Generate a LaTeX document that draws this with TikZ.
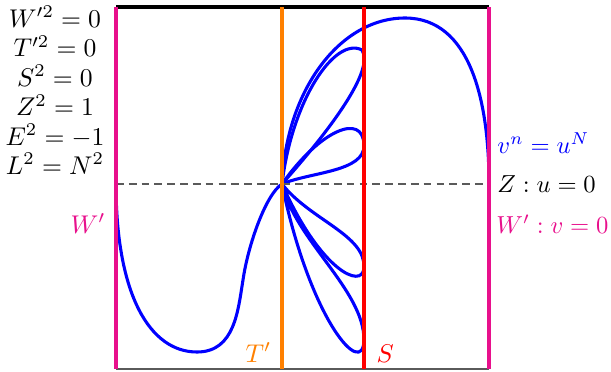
\documentclass[tikz,border=0pt]{standalone}
\definecolor{wpink}{RGB}{232,16,140}
\definecolor{torange}{RGB}{255,128,0}
\definecolor{sred}{RGB}{255,0,0}
\definecolor{cblue}{RGB}{0,0,255}
\definecolor{dgray}{RGB}{90,90,90}
\begin{document}
\begin{tikzpicture}[x=0.39pt,y=-0.39pt,
  curve/.style={cblue,line width=1.2pt},
  vline/.style={line width=1.2pt},
  lab/.style={anchor=base,inner sep=0pt},
  rlab/.style={anchor=base west,inner sep=0pt,scale=0.96}]
\useasboundingbox (0,0) rectangle (611,371);
\coordinate (TL) at (116,7);
\coordinate (TR) at (489,7);
\coordinate (BL) at (116,369);
\coordinate (BR) at (489,369);
\coordinate (ML) at (116,184);
\coordinate (MR) at (489,184);
\coordinate (X) at (282,184);
\coordinate (Ot) at (282,7);
\coordinate (Ob) at (282,369);
\coordinate (St) at (364,7);
\coordinate (Sb) at (364,369);
% blue curve
\draw[curve] (ML) .. controls (116,295) and (150,352) .. (197,352)
  .. controls (235,352) and (238,310) .. (243,280)
  .. controls (248,245) and (266,194) .. (X);
\draw[curve] (X) .. controls (310,172) and (365,172) .. (364,145)
  .. controls (363,112) and (320,130) .. (X);
\draw[curve] (X) .. controls (292,100) and (335,36) .. (362,50)
  .. controls (375,70) and (330,130) .. (X);
\draw[curve] (X) .. controls (286,90) and (340,18) .. (405,18)
  .. controls (470,18) and (489,100) .. (MR);
\draw[curve] (X) .. controls (310,220) and (366,235) .. (364,268)
  .. controls (362,290) and (320,270) .. (X);
\draw[curve] (X) .. controls (295,240) and (364,290) .. (364,340)
  .. controls (363,380) and (310,320) .. (X);
% frame
\draw[dgray,line width=0.5pt,dash pattern=on 3pt off 2pt] (ML) -- (MR);
\draw[dgray,line width=0.6pt] (BL) -- (BR);
\draw[black,line width=1.3pt] (TL) -- (TR);
\draw[vline,wpink] (TL) -- (BL);
\draw[vline,wpink] (TR) -- (BR);
\draw[vline,torange] (Ot) -- (Ob);
\draw[vline,sred] (St) -- (Sb);
% labels
\node[lab] (l1) at (55,27) {$W'^2=0$};
\node[lab] (l2) at (55,56.5) {$T'^2=0$};
\node[lab] (l3) at (55,86) {$S^2=0$};
\node[lab] (l4) at (55,115.5) {$Z^2=1$};
\node[lab] (l5) at (55,145) {$E^2=-1$};
\node[lab] (l6) at (55,174) {$L^2=N^2$};
\node[rlab,cblue] (r1) at (497,153) {$v^n=u^N$};
\node[rlab] (r2) at (497,192) {$Z:u=0$};
\node[rlab,wpink] (r3) at (496,233) {$W':v=0$};
\node[lab,anchor=base east,wpink] (wl) at (106,233) {$W'$};
\node[lab,anchor=base west,torange] (tl) at (245,362) {$T'$};
\node[lab,anchor=base west,sred] (sl) at (376,362) {$S$};
\end{tikzpicture}
\end{document}
